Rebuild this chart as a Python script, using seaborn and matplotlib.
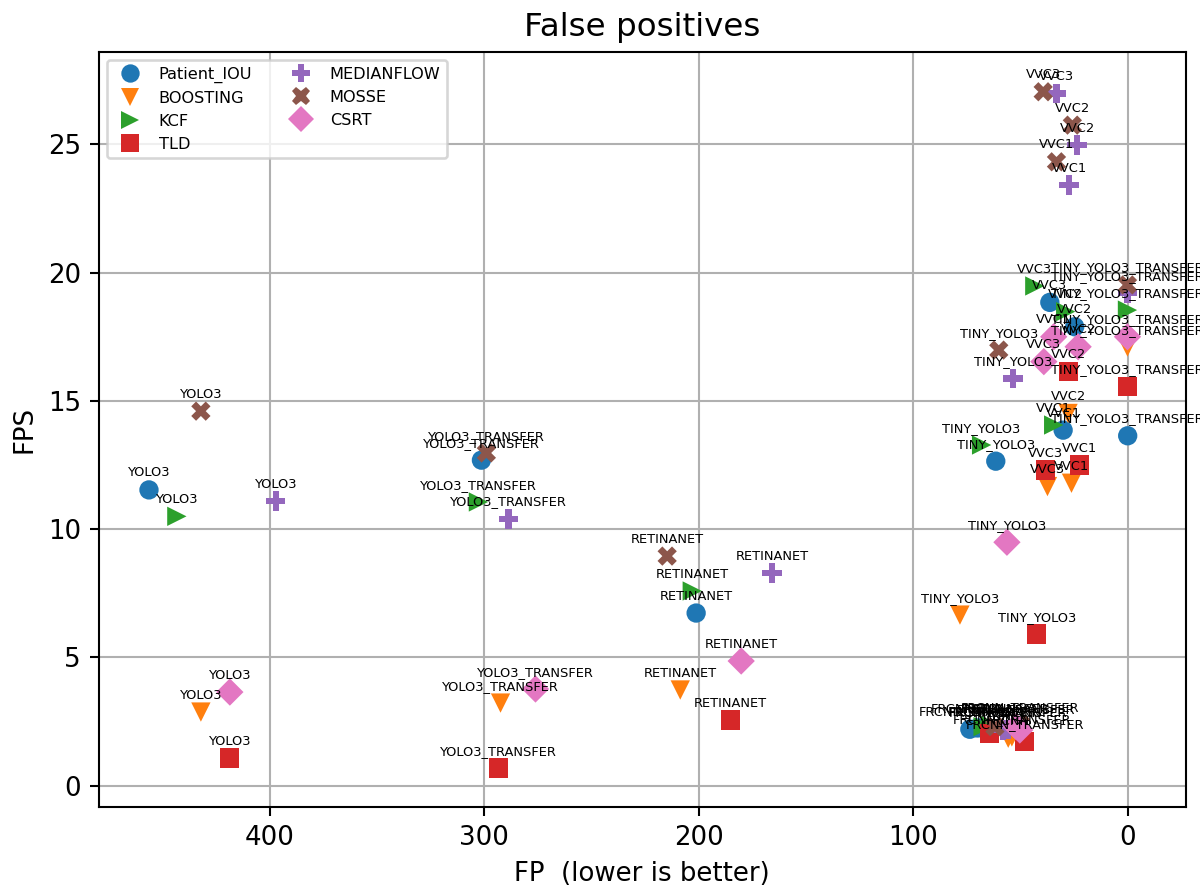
import matplotlib
matplotlib.use("Agg")
import matplotlib.pyplot as plt
import seaborn as sns
import pandas as pd

# Detector backbones, in the same order for every tracker
detectors = ["YOLO3", "YOLO3_TRANSFER", "RETINANET", "TINY_YOLO3",
             "TINY_YOLO3_TRANSFER", "VVC1", "VVC2", "VVC3",
             "FRCNN", "FRCNN_TRANSFER"]

trackers = ["Patient_IOU", "BOOSTING", "KCF", "TLD",
            "MEDIANFLOW", "MOSSE", "CSRT"]

# False positives per tracker (one value per detector)
fp_patient_iou = [456.3, 301.3, 201.2, 61.5, 0.0, 30.1, 24.7, 36.3, 73.6, 70.0]
fp_boosting    = [432.1, 292.4, 208.6, 78.2, 0.1, 26.2, 27.8, 37.4, 55.7, 54.0]
fp_kcf         = [443.3, 302.7, 203.0, 68.1, 0.1, 34.5, 28.9, 43.3, 67.4, 64.0]
fp_tld         = [418.6, 293.4, 185.3, 42.4, 0.1, 22.4, 27.5, 38.2, 64.3, 48.0]
fp_medianflow  = [397.2, 288.7, 165.8, 53.4, 0.1, 27.3, 23.6, 33.2, 58.2, 56.0]
fp_mosse       = [432.1, 299.0, 214.7, 60.1, 0.1, 33.2, 25.8, 39.4, 61.9, 50.0]
fp_csrt        = [418.6, 276.1, 180.2, 56.3, 0.1, 34.5, 23.1, 39.1, 50.3, 52.0]

# Frames per second per tracker (one value per detector)
fps_patient_iou = [11.53, 12.69, 6.73, 12.65, 13.64, 13.86, 17.89, 18.84, 2.20, 2.25]
fps_boosting    = [2.87, 3.22, 3.73, 6.65, 17.10, 11.79, 14.51, 11.66, 1.85, 1.90]
fps_kcf         = [10.50, 11.06, 7.59, 13.28, 18.54, 14.06, 18.48, 19.48, 2.30, 2.35]
fps_tld         = [1.08, 0.69, 2.56, 5.91, 15.55, 12.50, 16.14, 12.30, 2.04, 1.72]
fps_medianflow  = [11.10, 10.40, 8.29, 15.88, 19.20, 23.41, 24.97, 26.99, 2.17, 2.20]
fps_mosse       = [14.60, 12.97, 8.95, 16.98, 19.52, 24.32, 25.75, 27.05, 2.30, 2.40]
fps_csrt        = [3.65, 3.77, 4.86, 9.49, 17.50, 17.50, 17.11, 16.53, 2.17, 2.30]

fp_values = [fp_patient_iou, fp_boosting, fp_kcf, fp_tld,
             fp_medianflow, fp_mosse, fp_csrt]
fps_values = [fps_patient_iou, fps_boosting, fps_kcf, fps_tld,
              fps_medianflow, fps_mosse, fps_csrt]

rows = []
for trk, fps_list, fp_list in zip(trackers, fps_values, fp_values):
    for det, fp, fps in zip(detectors, fp_list, fps_list):
        rows.append({"tracker": trk, "detector": det, "FP": fp, "FPS": fps})
df = pd.DataFrame(rows)

sns.set_theme(style="ticks")
plt.rcParams["font.family"] = ["DejaVu Sans"]
plt.rcParams["text.color"] = "black"
plt.rcParams["axes.labelcolor"] = "black"
plt.rcParams["xtick.color"] = "black"
plt.rcParams["ytick.color"] = "black"

palette = ["#1f77b4", "#ff7f0e", "#2ca02c", "#d62728",
           "#9467bd", "#8c564b", "#e377c2"]
markers = ["o", "v", ">", "s", "P", "X", "D"]

fig = plt.figure(figsize=(6.4, 892 / 187.5), dpi=187.5)
ax = fig.add_axes([0.0825, 0.0956, 0.988 - 0.0825, 0.9417 - 0.0956])

sns.scatterplot(data=df, x="FP", y="FPS", hue="tracker", style="tracker",
                hue_order=trackers, style_order=trackers,
                palette=palette, markers=markers, s=55, linewidth=0,
                ax=ax, zorder=3)

for _, r in df.iterrows():
    ax.annotate(r["detector"], (r["FP"], r["FPS"]),
                textcoords="offset points", xytext=(0, 4),
                ha="center", va="bottom", fontsize=5, color="black", zorder=4)

ax.set_xlim(479.6, -27.0)
ax.set_ylim(-0.82, 28.6)
ax.set_xticks([400, 300, 200, 100, 0])
ax.set_yticks([0, 5, 10, 15, 20, 25])
ax.grid(True, color="#b0b0b0", linewidth=0.8, zorder=0)
ax.set_axisbelow(True)
for sp in ax.spines.values():
    sp.set_color("black")
    sp.set_linewidth(0.8)
ax.tick_params(axis="both", labelsize=10, color="black", length=3.5,
               width=0.8, labelcolor="black")

ax.set_title("False positives", fontsize=12.5, color="black")
ax.set_xlabel("FP  (lower is better)", fontsize=10, color="black")
ax.set_ylabel("FPS", fontsize=10, color="black")

sns.move_legend(ax, "upper left", ncol=2, title=None, fontsize=6.2,
                frameon=True, markerscale=0.95)

fig.savefig("out.png", dpi=187.5)
